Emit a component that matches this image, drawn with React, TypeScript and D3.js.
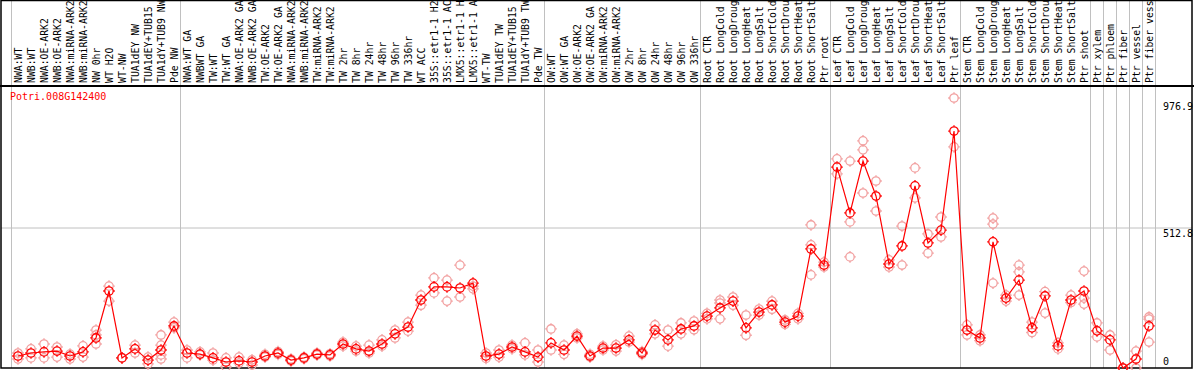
import React from "react";
import * as d3 from "d3";

const title = "Potri.008G142400";

const labels = [
  "NWA:WT","NWB:WT","NWA:OE-ARK2","NWB:OE-ARK2","NWA:miRNA-ARK2","NWB:miRNA-ARK2","NW 0hr","WT H2O","WT-NW","TUA1dEY NW","TUA1dEY+TUB15","TUA1dY+TUB9 NW","Pde NW",
  "NWA:WT GA","NWBWT GA","TW:WT","TW:WT GA","NWA:OE-ARK2 GA","NWB:OE-ARK2 GA","TW:OE-ARK2","TW:OE-ARK2 GA","NWA:miRNA-ARK2","NWB:miRNA-ARK2","TW:miRNA-ARK2","TW:miRNA-ARK2","TW 2hr","TW 8hr","TW 24hr","TW 48hr","TW 96hr","TW 336hr","WT ACC","35S::etr1-1 H2","35S::etr1-1 AC","LMX5::etr1-1 H","LMX5::etr1-1 A","WT-TW","TUA1dEY TW","TUA1dEY+TUB15","TUA1dY+TUB9 TW","Pde TW",
  "OW:WT","OW:WT GA","OW:OE-ARK2","OW:OE-ARK2 GA","OW:miRNA-ARK2","OW:miRNA-ARK2","OW 2hr","OW 8hr","OW 24hr","OW 48hr","OW 96hr","OW 336hr",
  "Root CTR","Root LongCold","Root LongDroug","Root LongHeat","Root LongSalt","Root ShortCold","Root ShortDrou","Root ShortHeat","Root ShortSalt","Ptr root",
  "Leaf CTR","Leaf LongCold","Leaf LongDroug","Leaf LongHeat","Leaf LongSalt","Leaf ShortCold","Leaf ShortDrou","Leaf ShortHeat","Leaf ShortSalt","Ptr leaf",
  "Stem CTR","Stem LongCold","Stem LongDroug","Stem LongHeat","Stem LongSalt","Stem ShortCold","Stem ShortDrou","Stem ShortHeat","Stem ShortSalt","Ptr shoot",
  "Ptr xylem","Ptr phloem","Ptr fiber","Ptr vessel","Ptr fiber vess"
];

const means = [
  44,55,59,62,44,59,110,282,37,70,29,66,154,
  55,51,37,22,26,22,44,55,29,37,51,48,88,70,62,88,125,150,249,297,297,293,311,44,51,77,59,40,
  92,66,117,44,73,73,103,55,139,103,143,154,
  190,220,245,147,205,231,168,190,436,377,
  736,568,758,630,381,447,667,458,505,868,
  139,110,462,256,322,147,264,81,249,282,
  136,103,0,33,154
];

const reps = [
  [55,33],[70,37],[88,37],[77,40],[51,33],[81,40],[139,121,88],[300,245],[37,37],[84,55],[40,15],[121,84,48,33],[168,147],
  [66,37],[59,48],[55,29],[37,4],[40,18],[11,30],[50,40],[60,50],[25,33],[40,34],[55,47],[52,44],[95,80],[80,62],[84,55],[103,80],[139,110],[168,135],[267,230],[330,275],[322,245],[377,260],[290,300],[55,35],[66,40],[84,70],[92,48],[66,22],
  [143,66],[84,50],[125,110],[50,40],[80,66],[85,62],[117,95],[60,50],[158,125],[139,80],[165,125],[172,140],
  [200,180],[249,238,180],[260,230],[194,120],[216,194],[245,215],[176,160],[180,200],[524,451,341],[370,388],
  [766,711],[758,535,407],[832,799,641],[685,575],[396,370],[520,377],[733,623],[491,421],[553,480],[989,810],
  [158,121],[121,100],[549,527,311],[267,245],[377,352,267],[168,130],[201,280],[92,70],[267,240],[355,256,234],
  [165,114],[121,66],[0,0],[62,0],[187,179,95]
];

const groupBreaks = [0,13,41,53,63,73,83,84,85,86,87,88];

const yTickValues = [976.9, 512.8, 0];

const W = 1194, H = 370;
const plotTop = 86, plotBottom = 368, plotLeft = 1, plotRight = 1192;

function Marker({ cx, cy, color }: { cx: number; cy: number; color: string }) {
  const r = 4.2, t = 5.8;
  return (
    <g stroke={color} strokeWidth={1.3} fill="none">
      <circle cx={cx} cy={cy} r={r} />
      <line x1={cx} y1={cy - r} x2={cx} y2={cy - t} />
      <line x1={cx} y1={cy + r} x2={cx} y2={cy + t} />
      <line x1={cx - r} y1={cy} x2={cx - t} y2={cy} />
      <line x1={cx + r} y1={cy} x2={cx + t} y2={cy} />
    </g>
  );
}

export default function App() {
  const x = d3.scaleBand<string>().domain(labels.map((l, i) => i + "")).range([11.5, 11.5 + 13 * labels.length]).padding(0);
  const cx = (i: number) => (x(i + "") as number) + x.bandwidth() / 2;
  const y = d3.scaleLinear().domain([0, 512.8]).range([plotBottom, 228]);
  const line = d3.line<number>().x((_, i) => cx(i)).y((d) => y(d));
  const mono = "'DejaVu Sans Mono', monospace";

  return (
    <svg width={W} height={H} style={{ position: "absolute", left: 0, top: 0, background: "#fff" }}>
      <defs>
        <clipPath id="plotclip">
          <rect x={plotLeft} y={plotTop} width={plotRight - plotLeft} height={plotBottom - plotTop + 2} />
        </clipPath>
      </defs>
      {groupBreaks.map((b) => {
        const xx = 11.5 + 13 * b;
        return <line key={b} x1={xx} x2={xx} y1={0} y2={plotBottom} stroke="#c0c0c0" strokeWidth={1} />;
      })}
      <line x1={plotLeft} x2={plotRight} y1={y(512.8)} y2={y(512.8)} stroke="#c0c0c0" strokeWidth={1} />
      {labels.map((l, i) => (
        <text key={i} transform={`translate(${cx(i) + 3.5},83) rotate(-90)`} fontFamily={mono} fontSize={9.8} fill="#000">
          {l}
        </text>
      ))}
      <rect x={plotLeft} y={0.5} width={plotRight - plotLeft} height={plotBottom - 0.5} fill="none" stroke="#000" strokeWidth={1.5} />
      <line x1={0} x2={W} y1={plotTop} y2={plotTop} stroke="#000" strokeWidth={2} />
      <text x={10} y={100} fontFamily={mono} fontSize={10} fill="#ff0000">{title}</text>
      {yTickValues.map((v, i) => (
        <text key={v} x={1163} y={i === 2 ? y(v) - 3 : y(v) + 9} fontFamily={mono} fontSize={10} fill="#000">{String(v)}</text>
      ))}
      <g clipPath="url(#plotclip)">
        {reps.map((rs, i) => rs.map((v, j) => <Marker key={i + "-" + j} cx={cx(i)} cy={y(v)} color="#f2a0a0" />))}
        <path d={line(means) || ""} fill="none" stroke="#ff0000" strokeWidth={1.2} />
        {means.map((v, i) => <Marker key={i} cx={cx(i)} cy={y(v)} color="#ff0000" />)}
      </g>
    </svg>
  );
}
